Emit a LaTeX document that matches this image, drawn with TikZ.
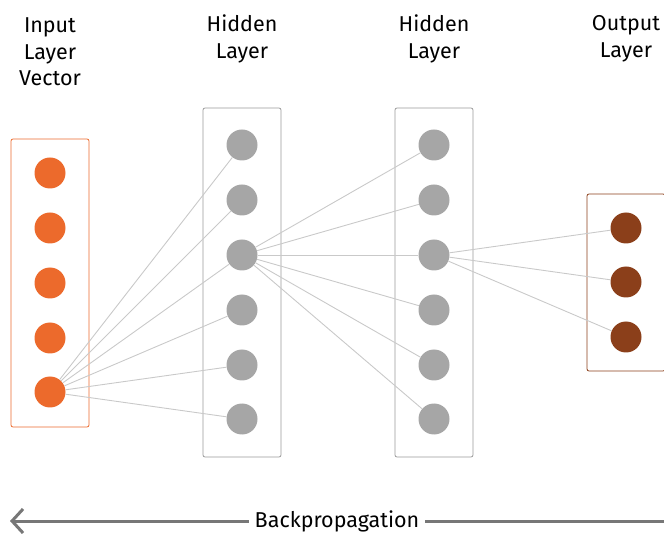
\documentclass[tikz,border=0pt]{standalone}
\usepackage{fontspec}
\setmainfont{Fira Sans}
\usetikzlibrary{arrows.meta}

\definecolor{inorange}{HTML}{EC6A2C}
\definecolor{hidgray}{HTML}{A6A6A6}
\definecolor{boxgray}{HTML}{9A9A9A}
\definecolor{outbrown}{HTML}{8B3F1A}
\definecolor{linkgray}{HTML}{C9C9C9}
\definecolor{arrowgray}{HTML}{777777}

\tikzset{
  unit/.style={circle, minimum size=31pt, inner sep=0pt},
  layerbox/.style={draw, rounded corners=2pt, line width=0.8pt, minimum width=78pt, inner sep=0pt},
  link/.style={linkgray, line width=0.9pt},
  title/.style={align=center, font=\fontsize{21.5}{26.5}\selectfont}
}

\begin{document}
\begin{tikzpicture}[x=1pt,y=-1pt]
\useasboundingbox (0,0) rectangle (664,534);
% layer boxes
\node[layerbox, draw=inorange, minimum height=288pt] (inbox) at (50,283) {};
\node[layerbox, draw=boxgray, minimum height=349pt] (hidboxa) at (242,282.5) {};
\node[layerbox, draw=boxgray, minimum height=349pt] (hidboxb) at (434,282.5) {};
\node[layerbox, draw=outbrown, minimum height=177pt] (outbox) at (626,282.5) {};
% units
\foreach \i/\y in {1/173,2/228,3/283,4/338,5/392}
  \node[unit, fill=inorange] (in\i) at (50,\y) {};
\foreach \i/\y in {1/145,2/200,3/255,4/310,5/365,6/419} {
  \node[unit, fill=hidgray] (ha\i) at (242,\y) {};
  \node[unit, fill=hidgray] (hb\i) at (434,\y) {};
}
\foreach \i/\y in {1/228,2/282,3/337}
  \node[unit, fill=outbrown] (out\i) at (626,\y) {};
% connections
\foreach \j in {1,...,6} {
  \draw[link] (in5) -- (ha\j);
  \draw[link] (ha3) -- (hb\j);
}
\foreach \j in {1,2,3}
  \draw[link] (hb3) -- (out\j);
% titles
\node[title] (intitle) at (50,52) {Input\\Layer\\Vector};
\node[title] (hatitle) at (242,39) {Hidden\\Layer};
\node[title] (hbtitle) at (434,39) {Hidden\\Layer};
\node[title] (outtitle) at (626,39) {Output\\Layer};
% backpropagation arrow
\node[font=\fontsize{21.5}{24}\selectfont, inner sep=6pt] (backprop) at (337,521) {Backpropagation};
\coordinate (bpleft) at (10,521);
\coordinate (bpright) at (664,521);
\draw[arrowgray, line width=3pt] (backprop.east) -- (bpright);
\draw[arrowgray, line width=3pt, -{Straight Barb[length=11pt,width=24pt,line width=3pt]}] (backprop.west) -- (bpleft);
\end{tikzpicture}
\end{document}
